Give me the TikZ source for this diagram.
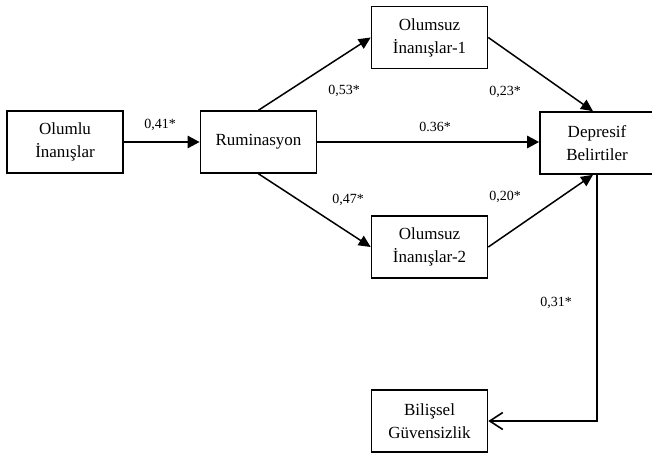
\documentclass[tikz,border=0pt]{standalone}
\usepackage{fontspec}
\setmainfont{Liberation Serif}
\usetikzlibrary{arrows.meta, calc}

\begin{document}
\begin{tikzpicture}[x=1pt, y=-1pt,
    kutu/.style={draw, line width=1.6pt, minimum width=116pt, minimum height=62pt, inner sep=0pt, align=center, font=\fontsize{17}{23}\selectfont},
    okk/.style={line width=2.6pt, -{Triangle[length=12pt, width=12pt]}},
    ok/.style={line width=1.5pt, -{Triangle[length=12pt, width=11pt]}},
    katsayi/.style={font=\fontsize{14}{16}\selectfont, inner sep=0pt}]
          \useasboundingbox (0,0) rectangle (652,458);
          % Kutular
          \node[kutu] (olumlu) at (65,142) {Olumlu\\İnanışlar};
          \node[kutu] (rum) at (258.5,142) {Ruminasyon};
          \node[kutu] (ol1) at (429.5,37.5) {Olumsuz\\İnanışlar-1};
          \node[kutu] (ol2) at (429.5,247) {Olumsuz\\İnanışlar-2};
          \node[kutu, minimum width=114pt] (dep) at (597,143) {Depresif\\Belirtiler};
          \node[kutu] (bil) at (429.5,421) {Bilişsel\\Güvensizlik};
          % Yollar
          \draw[okk] (olumlu) -- (rum);
          \draw[okk] (rum) -- (dep.west |- rum);
          \draw[ok] (rum.north) -- (ol1.west);
          \draw[ok] (rum.south) -- (ol2.west);
          \draw[ok] (ol1.east) -- ($(dep.north)+(-4,0)$);
          \draw[ok] (ol2.east) -- ($(dep.south)+(-4,0)$);
          \draw[line width=1.6pt, -{Straight Barb[length=13pt, width=17pt]}] (dep.south) |- (bil.east);
          % Katsayilar
          \node[katsayi] (k1) at (160,125) {0,41*};
          \node[katsayi] (k2) at (344,91) {0,53*};
          \node[katsayi] (k3) at (435,127) {0.36*};
          \node[katsayi] (k4) at (505,92) {0,23*};
          \node[katsayi] (k5) at (348,200) {0,47*};
          \node[katsayi] (k6) at (505,197) {0,20*};
          \node[katsayi] (k7) at (556,303) {0,31*};
        \end{tikzpicture}
\end{document}
